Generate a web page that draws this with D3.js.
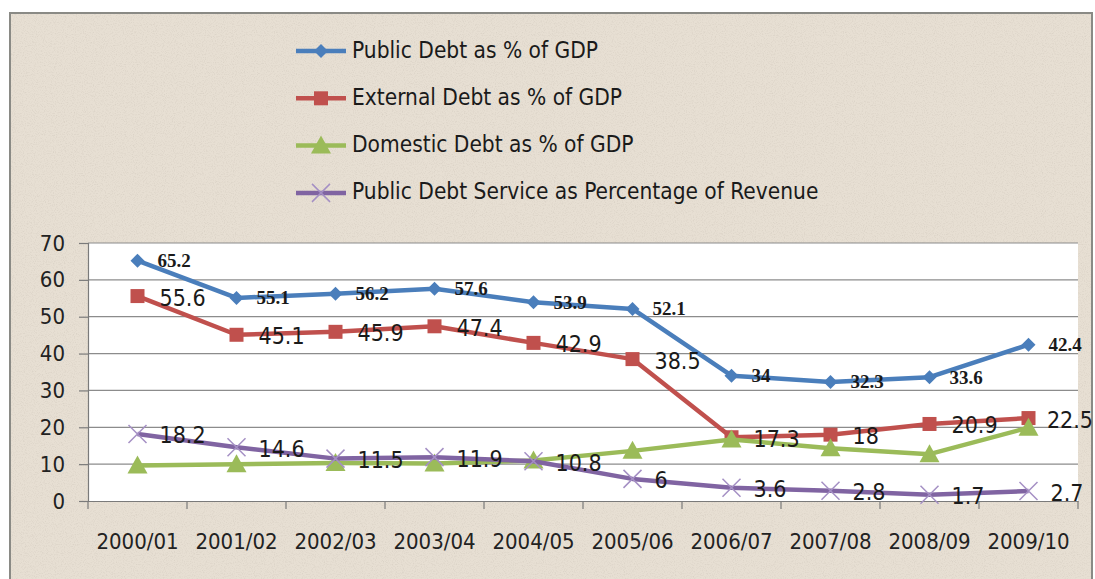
<!DOCTYPE html>
<html><head><meta charset="utf-8">
<script src="https://cdn.jsdelivr.net/npm/d3@7"></script>
<style>
html,body{margin:0;padding:0;background:#fff;}
svg{display:block;}
</style></head>
<body>
<svg id="chart" width="1095" height="579"></svg>
<script>
const categories = ["2000/01","2001/02","2002/03","2003/04","2004/05","2005/06","2006/07","2007/08","2008/09","2009/10"];
const publicDebt = [65.2,55.1,56.2,57.6,53.9,52.1,34,32.3,33.6,42.4];
const externalDebt = [55.6,45.1,45.9,47.4,42.9,38.5,17.3,18,20.9,22.5];
const domesticDebt = [9.6,10,10.3,10.2,11,13.6,16.7,14.3,12.7,19.9];
const debtService = [18.2,14.6,11.5,11.9,10.8,6,3.6,2.8,1.7,2.7];
const yTicks = [0,10,20,30,40,50,60,70];
const seriesNames = ["Public Debt as % of GDP","External Debt as % of GDP","Domestic Debt as % of GDP","Public Debt Service as Percentage of Revenue"];

const series = [
  {name: seriesNames[0], values: publicDebt, color:"#4A7EBB", marker:"diamond", label:true, labelStyle:"small"},
  {name: seriesNames[1], values: externalDebt, color:"#C0504D", marker:"square", label:true, labelStyle:"big"},
  {name: seriesNames[2], values: domesticDebt, color:"#9BBB59", marker:"triangle", label:false},
  {name: seriesNames[3], values: debtService, color:"#8064A2", marker:"x", label:true, labelStyle:"big"}
];

const font = "'DejaVu Sans Condensed','Liberation Sans',sans-serif";
const svg = d3.select("#chart");

const defs = svg.append("defs");
const f = defs.append("filter").attr("id","grain").attr("x",0).attr("y",0).attr("width","100%").attr("height","100%");
f.append("feTurbulence").attr("type","fractalNoise").attr("baseFrequency",0.9).attr("numOctaves",2).attr("seed",3).attr("result","n");
f.append("feColorMatrix").attr("in","n").attr("type","matrix")
  .attr("values","0 0 0 0 0.45  0 0 0 0 0.40  0 0 0 0 0.34  0 0 0 -1.6 0.85");

svg.append("rect").attr("x",0).attr("y",0).attr("width",1095).attr("height",579).attr("fill","#ffffff");
svg.append("rect").attr("x",10).attr("y",13).attr("width",1082).attr("height",580)
  .attr("fill","#E7DFD3");
svg.append("rect").attr("x",10).attr("y",13).attr("width",1082).attr("height",580)
  .attr("filter","url(#grain)").attr("opacity",0.35);
svg.append("rect").attr("x",10).attr("y",13).attr("width",1082).attr("height",580)
  .attr("fill","none").attr("stroke","#8a8a85").attr("stroke-width",2);

const pLeft=88, pRight=1078, pTop=243, pBottom=501;
const x = d3.scaleBand().domain(categories).range([pLeft,pRight]);
const y = d3.scaleLinear().domain([0,70]).range([pBottom,pTop]);

svg.append("rect").attr("x",pLeft).attr("y",pTop).attr("width",pRight-pLeft).attr("height",pBottom-pTop).attr("fill","#ffffff");

svg.append("g").selectAll("line").data(yTicks.filter(d=>d>0)).join("line")
  .attr("x1",pLeft).attr("x2",pRight).attr("y1",d=>y(d)).attr("y2",d=>y(d))
  .attr("stroke","#8c8c8c").attr("stroke-width",1.2);

const yAxis = svg.append("g").attr("transform",`translate(${pLeft},0)`)
  .call(d3.axisLeft(y).tickValues(yTicks).tickSize(9).tickPadding(14).tickFormat(d3.format("d")));
yAxis.select(".domain").attr("stroke","#7a7a7a").attr("stroke-width",1.2);
yAxis.selectAll(".tick line").attr("stroke","#7a7a7a").attr("stroke-width",1.2);
yAxis.selectAll("text").attr("font-family",font).attr("font-size",22).attr("fill","#222");

const xAxis = svg.append("g").attr("transform",`translate(0,${pBottom})`)
  .call(d3.axisBottom(x).tickSize(0).tickPadding(32));
xAxis.select(".domain").attr("stroke","#7a7a7a").attr("stroke-width",1.2);
xAxis.selectAll("text").attr("font-family",font).attr("font-size",22).attr("fill","#222");
const bounds = categories.map(c=>x(c)).concat([pRight]);
svg.append("g").selectAll("line").data(bounds).join("line")
  .attr("x1",d=>d).attr("x2",d=>d).attr("y1",pBottom).attr("y2",pBottom+8)
  .attr("stroke","#7a7a7a").attr("stroke-width",1.2);

const cx = c => x(c) + x.bandwidth()/2;

function drawMarker(g, type, px, py, color){
  if(type==="diamond"){
    g.append("path").attr("d",`M${px},${py-7}L${px+7},${py}L${px},${py+7}L${px-7},${py}Z`).attr("fill",color);
  } else if(type==="square"){
    g.append("rect").attr("x",px-7).attr("y",py-7).attr("width",14).attr("height",14).attr("fill",color);
  } else if(type==="triangle"){
    g.append("path").attr("d",`M${px},${py-10}L${px+10},${py+8}L${px-10},${py+8}Z`).attr("fill",color);
  } else if(type==="x"){
    g.append("path").attr("d",`M${px-9},${py-9}L${px+9},${py+9}M${px-9},${py+9}L${px+9},${py-9}`)
      .attr("stroke","#A48FC4").attr("stroke-width",1.5).attr("fill","none");
  }
}

const line = d3.line().x((d,i)=>cx(categories[i])).y(d=>y(d));
const linesG = svg.append("g");
series.forEach(s=>{
  linesG.append("path").datum(s.values).attr("d",line).attr("fill","none")
    .attr("stroke",s.color).attr("stroke-width",4.5).attr("stroke-linejoin","round");
  const mg = linesG.append("g");
  s.values.forEach((v,i)=>drawMarker(mg, s.marker, cx(categories[i]), y(v), s.color));
});

const labelsG = svg.append("g");
series.filter(s=>s.label).forEach(s=>{
  labelsG.selectAll(null).data(s.values).join("text")
    .attr("x",(d,i)=>cx(categories[i]) + (s.labelStyle==="small"?20:22))
    .attr("y",d=>y(d)+ (s.labelStyle==="small"?2:3))
    .attr("dominant-baseline","middle")
    .attr("font-family", s.labelStyle==="small" ? "'Liberation Serif','DejaVu Serif',serif" : font)
    .attr("font-size", s.labelStyle==="small" ? 19 : 23)
    .attr("font-weight", s.labelStyle==="small" ? "bold" : "normal")
    .attr("fill","#1a1a1a")
    .text(d=>d)
    .each(function(){
      const w = this.getComputedTextLength();
      const x0 = +this.getAttribute("x");
      if (x0 + w > 1093) this.setAttribute("x", 1093 - w);
    });
});

const lg = svg.append("g");
series.forEach((s,i)=>{
  const ly = 51 + i*47.3;
  lg.append("line").attr("x1",296).attr("x2",346).attr("y1",ly).attr("y2",ly)
    .attr("stroke",s.color).attr("stroke-width",4.5);
  drawMarker(lg, s.marker, 321, ly, s.color);
  lg.append("text").attr("x",352).attr("y",ly).attr("dominant-baseline","middle")
    .attr("font-family",font).attr("font-size",22.5).attr("fill","#1a1a1a").text(s.name);
});
</script>
</body></html>
